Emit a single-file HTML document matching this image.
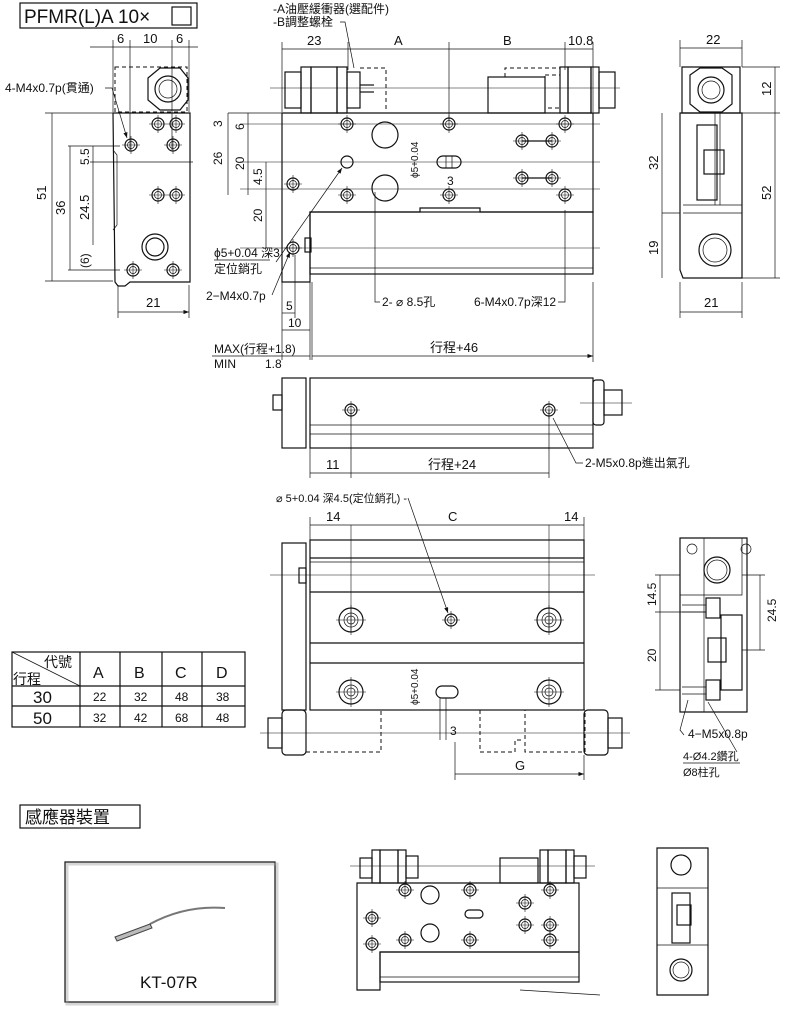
<!DOCTYPE html>
<html><head><meta charset="utf-8"><style>
html,body{margin:0;padding:0;background:#fff}
svg{display:block}
text{font-family:"Liberation Sans","Noto Sans CJK TC",sans-serif;fill:#111}
.l{stroke:#111;stroke-width:1.2;fill:none}
.t{stroke:#111;stroke-width:0.7;fill:none}
.d{stroke:#111;stroke-width:1;fill:none;stroke-dasharray:4 3}
.c{stroke:#111;stroke-width:0.6;fill:none}
</style></head><body>
<svg width="800" height="1012" viewBox="0 0 800 1012" xmlns="http://www.w3.org/2000/svg">
<defs>
<g id="h"><circle r="6" class="l"/><circle r="3.5" class="t"/><line x1="-9" y1="0" x2="9" y2="0" class="c"/><line x1="0" y1="-9" x2="0" y2="9" class="c"/></g>
<g id="hb"><circle r="12" class="l"/><circle r="7" class="t"/><circle r="4" class="t"/><line x1="-15" y1="0" x2="15" y2="0" class="c"/><line x1="0" y1="-15" x2="0" y2="15" class="c"/></g>
<marker id="a" markerWidth="8" markerHeight="6" refX="8" refY="3" orient="auto"><path d="M0,0 L8,3 L0,6z" fill="#111"/></marker>
</defs>

<!-- title -->
<rect x="20" y="3" width="177" height="25" class="l"/>
<text x="24" y="23" font-size="19">PFMR(L)A 10×</text>
<rect x="172" y="7" width="19" height="18" class="l"/>

<!-- left side view -->
<line x1="90" y1="47" x2="198" y2="47" class="t"/>
<text x="117" y="43" font-size="13">6</text><text x="143" y="43" font-size="13">10</text><text x="176" y="43" font-size="13">6</text>
<line x1="113" y1="40" x2="113" y2="112" class="t"/><line x1="130" y1="40" x2="130" y2="150" class="t"/><line x1="172" y1="40" x2="172" y2="150" class="t"/><line x1="189" y1="40" x2="189" y2="112" class="t"/>
<rect x="115" y="67" width="72" height="45" class="d"/>
<polygon points="148,78 160,68 180,68 188,78 188,100 180,110 160,110 148,100" class="l"/>
<circle cx="168" cy="89" r="13" class="l"/><circle cx="168" cy="89" r="9" class="t"/>
<path d="M113,113 H190 V282 H130 L125,286 H118 L115,282 Z" class="l"/>
<path d="M113,150 L117,155 V225 L113,230" class="t"/>
<use href="#h" x="158" y="124"/><use href="#h" x="176" y="124"/><use href="#h" x="131" y="145"/><use href="#h" x="173" y="145"/>
<use href="#h" x="158" y="195"/><use href="#h" x="176" y="195"/><use href="#h" x="133" y="270"/><use href="#h" x="173" y="270"/>
<circle cx="155" cy="247" r="13" class="l"/><circle cx="155" cy="247" r="9" class="l"/>
<text x="5" y="92" font-size="12">4-M4x0.7p(貫通)</text>
<path d="M105,88 H112 L127,138" class="t" marker-end="url(#a)"/>
<line x1="45" y1="113" x2="113" y2="113" class="t"/><line x1="45" y1="281" x2="113" y2="281" class="t"/>
<line x1="52" y1="113" x2="52" y2="281" class="t"/><text x="46" y="200" font-size="13" transform="rotate(-90 46 200)">51</text>
<line x1="70" y1="146" x2="70" y2="270" class="t"/><text x="65" y="215" font-size="13" transform="rotate(-90 65 215)">36</text>
<line x1="93" y1="146" x2="93" y2="245" class="t"/><text x="89" y="220" font-size="13" transform="rotate(-90 89 220)">24.5</text>
<text x="89" y="165" font-size="12" transform="rotate(-90 89 165)">5.5</text>
<text x="89" y="268" font-size="12" transform="rotate(-90 89 268)">(6)</text>
<line x1="68" y1="146" x2="120" y2="146" class="t"/><line x1="90" y1="162" x2="193" y2="162" class="t"/><line x1="68" y1="270" x2="120" y2="270" class="t"/>
<line x1="118" y1="285" x2="118" y2="318" class="t"/><line x1="189" y1="285" x2="189" y2="318" class="t"/>
<line x1="118" y1="312" x2="189" y2="312" class="t" marker-end="url(#a)"/><text x="146" y="307" font-size="13">21</text>

<!-- main top view -->
<text x="273" y="13" font-size="12">-A油壓緩衝器(選配件)</text>
<text x="273" y="26" font-size="12">-B調整螺栓</text>
<path d="M340,22 H345 L354,68" class="t"/>
<line x1="282" y1="49" x2="593" y2="49" class="t"/>
<line x1="282" y1="42" x2="282" y2="112" class="t"/><line x1="348" y1="42" x2="348" y2="70" class="t"/><line x1="449" y1="42" x2="449" y2="120" class="t"/><line x1="565" y1="42" x2="565" y2="70" class="t"/><line x1="593" y1="42" x2="593" y2="112" class="t"/>
<text x="307" y="45" font-size="13">23</text><text x="394" y="45" font-size="13">A</text><text x="503" y="45" font-size="13">B</text><text x="568" y="45" font-size="13">10.8</text>
<!-- nuts top -->
<rect x="285" y="72" width="16" height="36" class="l"/><rect x="301" y="67" width="10" height="46" class="l"/><rect x="311" y="67" width="26" height="46" class="l"/><rect x="337" y="67" width="10" height="46" class="l"/><rect x="347" y="72" width="13" height="36" class="l"/>
<line x1="360" y1="85" x2="374" y2="85" class="l"/><line x1="360" y1="92" x2="374" y2="92" class="l"/>
<path d="M360,68 H386 V112" class="d"/>
<rect x="488" y="77" width="57" height="36" class="l"/><path d="M505,77 V68 H560" class="d"/>
<rect x="545" y="75" width="15" height="33" class="d"/><rect x="560" y="67" width="8" height="46" class="l"/><rect x="568" y="67" width="23" height="46" class="l"/><rect x="591" y="67" width="8" height="46" class="l"/><rect x="599" y="72" width="16" height="36" class="l"/>
<line x1="270" y1="88" x2="620" y2="88" class="c"/>
<path d="M282,113 H593 V212 H480 V208 H420 V212 H310 V282 H282 Z" class="l"/>
<rect x="310" y="212" width="283" height="62" class="l"/><line x1="310" y1="268" x2="593" y2="268" class="t"/>
<rect x="305" y="238" width="6" height="14" class="l"/>
<line x1="240" y1="124" x2="600" y2="124" class="c"/><line x1="240" y1="162" x2="600" y2="162" class="c"/><line x1="240" y1="189" x2="600" y2="189" class="c"/><line x1="240" y1="248" x2="600" y2="248" class="c"/>
<use href="#h" x="347" y="124"/><use href="#h" x="449" y="124"/><use href="#h" x="565" y="124"/><use href="#h" x="347" y="195"/><use href="#h" x="449" y="195"/><use href="#h" x="565" y="195"/>
<use href="#h" x="293" y="184"/><use href="#h" x="293" y="248"/>
<circle cx="347" cy="162" r="6" class="l"/>
<circle cx="385" cy="135" r="13" class="l"/><circle cx="385" cy="188" r="13" class="l"/>
<use href="#h" x="522" y="141"/><use href="#h" x="552" y="141"/><use href="#h" x="522" y="178"/><use href="#h" x="552" y="178"/>
<line x1="522" y1="141" x2="552" y2="141" class="l"/><line x1="522" y1="178" x2="552" y2="178" class="l"/>
<rect x="437" y="156" width="24" height="12" rx="6" class="l"/><line x1="446" y1="156" x2="446" y2="168" class="t"/><line x1="452" y1="156" x2="452" y2="168" class="t"/>
<text x="418" y="178" font-size="10" transform="rotate(-90 418 178)">ϕ5+0.04</text>
<text x="447" y="185" font-size="12">3</text>
<line x1="228" y1="113" x2="282" y2="113" class="t"/>
<line x1="228" y1="113" x2="228" y2="195" class="t"/><line x1="248" y1="113" x2="248" y2="195" class="t"/>
<text x="222" y="127" font-size="12" transform="rotate(-90 222 127)">3</text><text x="244" y="130" font-size="12" transform="rotate(-90 244 130)">6</text>
<text x="222" y="165" font-size="12" transform="rotate(-90 222 165)">26</text><text x="244" y="170" font-size="12" transform="rotate(-90 244 170)">20</text>
<text x="262" y="185" font-size="12" transform="rotate(-90 262 185)">4.5</text><text x="262" y="222" font-size="12" transform="rotate(-90 262 222)">20</text>
<line x1="266" y1="162" x2="266" y2="248" class="t"/>
<text x="214" y="257" font-size="12">ϕ5+0.04 深3</text><line x1="214" y1="260" x2="270" y2="260" class="t"/>
<text x="214" y="273" font-size="12">定位銷孔</text>
<line x1="276" y1="262" x2="342" y2="168" class="t" marker-end="url(#a)"/>
<text x="206" y="300" font-size="12">2−M4x0.7p</text>
<path d="M272,295 L290,252" class="t" marker-end="url(#a)"/>
<line x1="282" y1="282" x2="282" y2="360" class="t"/><line x1="295" y1="255" x2="295" y2="318" class="t"/><line x1="310" y1="282" x2="310" y2="360" class="t"/><line x1="312" y1="282" x2="312" y2="360" class="t"/>
<text x="286" y="310" font-size="12">5</text><line x1="282" y1="313" x2="295" y2="313" class="t"/>
<text x="288" y="327" font-size="12">10</text><line x1="282" y1="330" x2="310" y2="330" class="t"/>
<path d="M375,192 V302 H380" class="t"/><text x="382" y="306" font-size="12">2- ⌀ 8.5孔</text>
<path d="M565,210 V302 H558" class="t"/><text x="474" y="306" font-size="12">6-M4x0.7p深12</text>
<text x="214" y="353" font-size="12">MAX(行程+1.8)</text><line x1="212" y1="356" x2="310" y2="356" class="t"/>
<text x="214" y="368" font-size="12">MIN</text><text x="265" y="368" font-size="12">1.8</text>
<line x1="312" y1="356" x2="593" y2="356" class="t" marker-end="url(#a)"/><text x="430" y="352" font-size="13">行程+46</text>
<line x1="593" y1="282" x2="593" y2="362" class="t"/>

<!-- right end view top -->
<line x1="680" y1="48" x2="742" y2="48" class="t"/><text x="706" y="44" font-size="13">22</text>
<line x1="680" y1="40" x2="680" y2="67" class="t"/><line x1="742" y1="40" x2="742" y2="67" class="t"/>
<path d="M682,67 H740 V113 H682 Z" class="l"/>
<polygon points="690,75 700,68 722,68 732,75 732,104 722,112 700,112 690,104" class="l"/>
<circle cx="711" cy="90" r="13" class="l"/><circle cx="711" cy="90" r="9" class="t"/>
<path d="M680,113 H742 V278 H683 L680,270 Z" class="l"/>
<line x1="715" y1="113" x2="715" y2="205" class="t"/><line x1="720" y1="113" x2="720" y2="205" class="t"/>
<rect x="697" y="125" width="20" height="75" class="l"/><rect x="704" y="150" width="20" height="24" class="l"/>
<line x1="683" y1="205" x2="742" y2="205" class="t"/><line x1="683" y1="213" x2="742" y2="213" class="t"/>
<circle cx="715" cy="250" r="16" class="l"/><circle cx="715" cy="250" r="12" class="t"/>
<line x1="742" y1="113" x2="780" y2="113" class="t"/><line x1="742" y1="67" x2="780" y2="67" class="t"/><line x1="742" y1="278" x2="780" y2="278" class="t"/>
<line x1="775" y1="67" x2="775" y2="278" class="t"/>
<text x="771" y="96" font-size="13" transform="rotate(-90 771 96)">12</text><text x="771" y="200" font-size="13" transform="rotate(-90 771 200)">52</text>
<line x1="662" y1="113" x2="662" y2="278" class="t"/><line x1="662" y1="213" x2="680" y2="213" class="t"/>
<text x="658" y="170" font-size="13" transform="rotate(-90 658 170)">32</text><text x="658" y="255" font-size="13" transform="rotate(-90 658 255)">19</text>
<line x1="680" y1="282" x2="680" y2="318" class="t"/><line x1="742" y1="282" x2="742" y2="318" class="t"/>
<line x1="680" y1="312" x2="742" y2="312" class="t"/><text x="704" y="307" font-size="13">21</text>

<!-- middle side view -->
<rect x="282" y="378" width="24" height="70" class="l"/><rect x="273" y="395" width="9" height="15" class="l"/>
<rect x="310" y="378" width="283" height="70" class="l"/><line x1="310" y1="425" x2="593" y2="425" class="t"/><line x1="310" y1="434" x2="593" y2="434" class="t"/>
<rect x="593" y="380" width="11" height="45" rx="3" class="l"/><rect x="604" y="390" width="18" height="25" class="l"/>
<line x1="580" y1="403" x2="632" y2="403" class="c"/>
<use href="#h" x="351" y="410"/><use href="#h" x="549" y="410"/>
<line x1="351" y1="410" x2="351" y2="478" class="t"/><line x1="549" y1="410" x2="549" y2="478" class="t"/><line x1="310" y1="448" x2="310" y2="478" class="t"/>
<line x1="310" y1="473" x2="549" y2="473" class="t"/><text x="326" y="469" font-size="13">11</text><text x="428" y="469" font-size="13">行程+24</text>
<path d="M553,418 L576,463 H583" class="t"/><text x="585" y="467" font-size="12">2-M5x0.8p進出氣孔</text>

<!-- bottom view -->
<text x="276" y="502" font-size="11">⌀ 5+0.04 深4.5(定位銷孔) -</text>
<line x1="408" y1="498" x2="448" y2="613" class="t" marker-end="url(#a)"/>
<line x1="310" y1="525" x2="584" y2="525" class="t"/><text x="326" y="521" font-size="13">14</text><text x="448" y="521" font-size="13">C</text><text x="564" y="521" font-size="13">14</text>
<line x1="310" y1="517" x2="310" y2="540" class="t"/><line x1="584" y1="517" x2="584" y2="540" class="t"/>
<rect x="282" y="543" width="24" height="167" class="l"/><rect x="299" y="568" width="7" height="15" class="l"/>
<rect x="310" y="540" width="274" height="170" class="l"/>
<line x1="310" y1="558" x2="584" y2="558" class="l"/><line x1="310" y1="562" x2="584" y2="562" class="t"/>
<line x1="310" y1="592" x2="584" y2="592" class="l"/><line x1="310" y1="643" x2="584" y2="643" class="l"/><line x1="310" y1="663" x2="584" y2="663" class="l"/>
<line x1="270" y1="575" x2="595" y2="575" class="c"/>
<line x1="351" y1="525" x2="351" y2="632" class="c"/><line x1="549" y1="525" x2="549" y2="632" class="c"/>
<use href="#hb" x="351" y="620"/><use href="#hb" x="549" y="620"/><use href="#h" x="451" y="620"/>
<use href="#hb" x="351" y="692"/><use href="#hb" x="549" y="692"/>
<rect x="436" y="686" width="22" height="12" rx="6" class="l"/>
<text x="418" y="705" font-size="10" transform="rotate(-90 418 705)">ϕ5+0.04</text>
<line x1="440" y1="698" x2="440" y2="740" class="t"/><line x1="446" y1="698" x2="446" y2="740" class="t"/><text x="450" y="735" font-size="12">3</text>
<!-- nuts bottom -->
<rect x="268" y="718" width="14" height="30" class="l"/><rect x="282" y="710" width="24" height="45" rx="4" class="l"/>
<path d="M306,752 H381 V710" class="d"/><path d="M480,710 V752 H515 V740 H524" class="d"/>
<rect x="525" y="710" width="60" height="42" class="d"/>
<rect x="584" y="710" width="24" height="45" rx="4" class="l"/><rect x="608" y="718" width="14" height="30" class="l"/>
<line x1="260" y1="733" x2="630" y2="733" class="c"/>
<line x1="455" y1="742" x2="455" y2="780" class="t"/><line x1="584" y1="755" x2="584" y2="780" class="t"/>
<line x1="455" y1="774" x2="584" y2="774" class="t" marker-end="url(#a)"/><text x="515" y="770" font-size="13">G</text>

<!-- bottom right end view -->
<path d="M680,538 H747 V712 H680 Z" class="l"/>
<line x1="704" y1="538" x2="704" y2="712" class="t"/>
<circle cx="692" cy="549" r="5" class="t"/><circle cx="746" cy="549" r="5" class="t"/>
<circle cx="717" cy="570" r="13" class="l"/><circle cx="717" cy="570" r="10" class="t"/>
<path d="M680,595 H742 V538" class="t"/>
<rect x="706" y="598" width="14" height="20" class="l"/><rect x="706" y="680" width="14" height="20" class="l"/>
<rect x="721" y="615" width="21" height="75" class="l"/><rect x="708" y="638" width="18" height="24" class="l"/>
<line x1="682" y1="605" x2="706" y2="605" class="t"/><line x1="682" y1="612" x2="706" y2="612" class="t"/><line x1="682" y1="687" x2="706" y2="687" class="t"/><line x1="682" y1="694" x2="706" y2="694" class="t"/>
<line x1="655" y1="575" x2="680" y2="575" class="t"/><line x1="655" y1="612" x2="706" y2="612" class="t"/><line x1="655" y1="690" x2="680" y2="690" class="t"/>
<line x1="660" y1="575" x2="660" y2="690" class="t"/><line x1="760" y1="575" x2="760" y2="650" class="t"/>
<line x1="742" y1="575" x2="765" y2="575" class="t"/><line x1="742" y1="650" x2="765" y2="650" class="t"/>
<text x="656" y="606" font-size="12" transform="rotate(-90 656 606)">14.5</text><text x="656" y="662" font-size="12" transform="rotate(-90 656 662)">20</text>
<text x="776" y="622" font-size="12" transform="rotate(-90 776 622)">24.5</text>
<path d="M684,735 L680,730 L688,700" class="t"/><text x="688" y="738" font-size="12">4−M5x0.8p</text>
<line x1="737" y1="752" x2="708" y2="702" class="t"/>
<text x="683" y="760" font-size="11">4-Ø4.2鑽孔</text><line x1="683" y1="763" x2="740" y2="763" class="t"/>
<text x="683" y="776" font-size="11">Ø8柱孔</text>

<!-- table -->
<rect x="12" y="652" width="233" height="75" class="l"/>
<line x1="12" y1="686" x2="245" y2="686" class="l"/><line x1="12" y1="706" x2="245" y2="706" class="l"/>
<line x1="80" y1="652" x2="80" y2="727" class="l"/><line x1="120" y1="652" x2="120" y2="727" class="l"/><line x1="162" y1="652" x2="162" y2="727" class="l"/><line x1="202" y1="652" x2="202" y2="727" class="l"/>
<line x1="12" y1="652" x2="80" y2="686" class="t"/>
<text x="44" y="667" font-size="14">代號</text><text x="13" y="684" font-size="14">行程</text>
<text x="93" y="678" font-size="16">A</text><text x="134" y="678" font-size="16">B</text><text x="175" y="678" font-size="16">C</text><text x="216" y="678" font-size="16">D</text>
<text x="33" y="703" font-size="17">30</text><text x="33" y="724" font-size="17">50</text>
<text x="93" y="701" font-size="12">22</text><text x="134" y="701" font-size="12">32</text><text x="175" y="701" font-size="12">48</text><text x="216" y="701" font-size="12">38</text>
<text x="93" y="722" font-size="12">32</text><text x="134" y="722" font-size="12">42</text><text x="175" y="722" font-size="12">68</text><text x="216" y="722" font-size="12">48</text>

<!-- sensor -->
<rect x="20" y="805" width="120" height="23" class="l"/><text x="25" y="823" font-size="17">感應器裝置</text>
<rect x="65" y="862" width="210" height="140" class="l"/>
<rect x="65" y="862" width="210" height="140" fill="none" stroke="#999" stroke-width="3" transform="translate(2,2)" opacity="0.4"/>
<path d="M150,924 Q185,905 225,908" stroke="#777" stroke-width="2" fill="none"/>
<path d="M115,937 L150,924 L152,928 L117,941 Z" fill="#bbb" stroke="#444" stroke-width="1"/>
<text x="140" y="988" font-size="17">KT-07R</text>

<!-- bottom small drawings -->
<rect x="360" y="858" width="12" height="20" class="l"/><rect x="372" y="850" width="8" height="33" class="l"/><rect x="380" y="850" width="18" height="33" class="l"/><rect x="398" y="850" width="8" height="33" class="l"/><rect x="406" y="856" width="12" height="22" class="l"/>
<rect x="500" y="858" width="38" height="25" class="l"/><rect x="540" y="850" width="8" height="33" class="l"/><rect x="548" y="850" width="18" height="33" class="l"/><rect x="566" y="850" width="8" height="33" class="l"/><rect x="574" y="856" width="12" height="22" class="l"/>
<line x1="350" y1="866" x2="595" y2="866" class="c"/>
<path d="M357,883 H579 V952 H380 V990 H357 Z" class="l"/><rect x="380" y="952" width="199" height="30" class="l"/>
<line x1="380" y1="977" x2="579" y2="977" class="t"/>
<circle cx="430" cy="895" r="9" class="l"/><circle cx="430" cy="933" r="9" class="l"/>
<use href="#h" x="405" y="890"/><use href="#h" x="470" y="890"/><use href="#h" x="550" y="890"/><use href="#h" x="405" y="940"/><use href="#h" x="470" y="940"/><use href="#h" x="550" y="940"/>
<use href="#h" x="372" y="918"/><use href="#h" x="372" y="944"/><use href="#h" x="525" y="903"/><use href="#h" x="525" y="925"/><use href="#h" x="550" y="925"/>
<rect x="465" y="910" width="18" height="8" rx="4" class="l"/>
<line x1="520" y1="990" x2="600" y2="995" class="t"/>
<path d="M657,848 H708 V995 H657 Z" class="l"/>
<circle cx="681" cy="865" r="10" class="l"/><line x1="657" y1="888" x2="708" y2="888" class="t"/>
<rect x="672" y="893" width="18" height="50" class="l"/><rect x="677" y="905" width="14" height="20" class="l"/>
<line x1="657" y1="945" x2="708" y2="945" class="t"/>
<circle cx="681" cy="970" r="11" class="l"/><circle cx="681" cy="970" r="8" class="t"/>
</svg>
</body></html>
